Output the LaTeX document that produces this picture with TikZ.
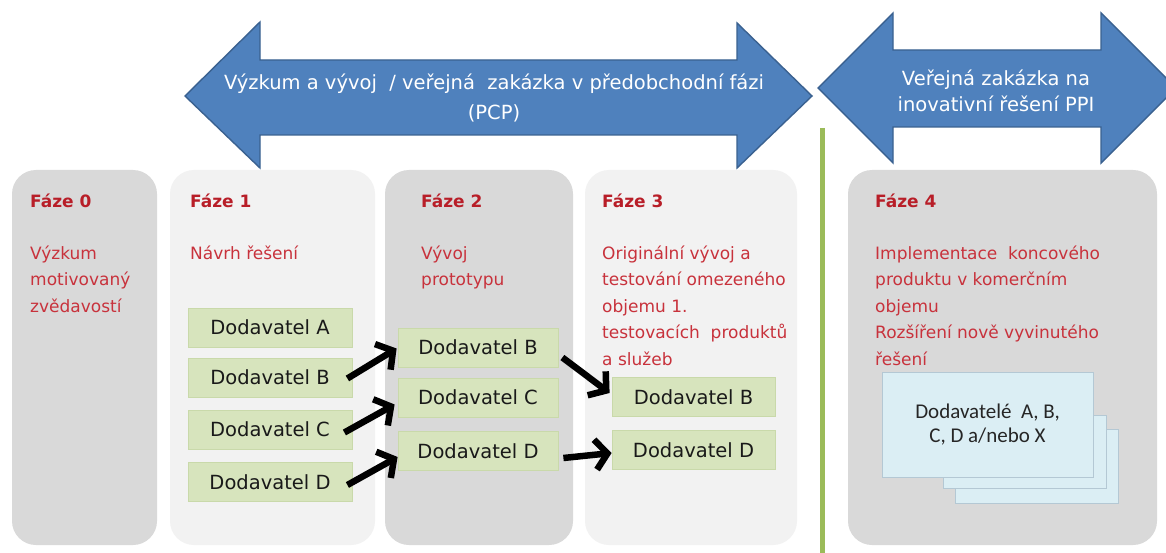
\documentclass[tikz,border=0pt]{standalone}
\usepackage{fontspec}
\setmainfont{DejaVu Sans}
\newfontfamily\calfont{Carlito}
\usetikzlibrary{arrows.meta}

\definecolor{phdark}{HTML}{D9D9D9}
\definecolor{phlight}{HTML}{F2F2F2}
\definecolor{arrowblue}{HTML}{4F81BD}
\definecolor{arrowedge}{HTML}{3A6190}
\definecolor{labelred}{HTML}{B81E28}
\definecolor{textred}{HTML}{C8323C}
\definecolor{supfill}{HTML}{D7E4BD}
\definecolor{supedge}{HTML}{C9D9AA}
\definecolor{stackfill}{HTML}{DBEEF4}
\definecolor{stackedge}{HTML}{B4C8D4}
\definecolor{divider}{HTML}{9BBB59}

\begin{document}
\begin{tikzpicture}[x=1pt,y=-1pt,
  phase/.style={rectangle, rounded corners=24pt, draw=none, minimum height=375pt, inner sep=0pt},
  phaselabel/.style={anchor=base west, inner sep=0pt, text=labelred, font=\fontsize{17}{26.5}\selectfont\bfseries},
  phasetext/.style={anchor=north west, inner sep=0pt, align=left, text=textred, font=\fontsize{17}{26.5}\selectfont},
  supplier/.style={rectangle, fill=supfill, draw=supedge, line width=0.8pt, minimum height=39pt, inner sep=0pt, text=black!90, font=\fontsize{19.5}{22}\selectfont},
  stackcard/.style={rectangle, fill=stackfill, draw=stackedge, line width=0.8pt, inner sep=0pt},
  bigarrow/.style={fill=arrowblue, draw=arrowedge, line width=1.4pt, line join=miter},
  arrowtext/.style={align=center, inner sep=0pt, text=white},
  flow/.style={line width=6.5pt, -{Straight Barb[length=12pt,width=30pt]}, black}
]
\useasboundingbox (0,0) rectangle (1166,553);
\fill[white] (0,0) rectangle (1166,553);

\begin{scope}
\clip (0,0) rectangle (1166,553);

% top arrows
\draw[bigarrow] (185,96) -- (260,22) -- (260,60) -- (737,60) -- (737,23) -- (812,96)
  -- (737,168) -- (737,135) -- (260,135) -- (260,168) -- cycle;
\node[arrowtext, font=\fontsize{19.5}{30}\selectfont] (pcp) at (494,98)
  {Výzkum a vývoj\ \ / veřejná\ \ zakázka v předobchodní fázi\\(PCP)};

\draw[bigarrow] (818,88) -- (893,13) -- (893,50) -- (1101,50) -- (1101,13) -- (1176,88)
  -- (1101,163) -- (1101,127) -- (893,127) -- (893,163) -- cycle;
\node[arrowtext, font=\fontsize{19.5}{26}\selectfont] (ppi) at (996,91)
  {Veřejná zakázka na\\inovativní řešení PPI};

% divider between PCP and PPI
\draw[divider, line width=5pt] (822,128) -- (822,553);
\end{scope}

% phase columns
\node[phase, fill=phdark,  minimum width=145pt] (ph0) at (84.5,357.5) {};
\node[phase, fill=phlight, minimum width=205pt] (ph1) at (272.5,357.5) {};
\node[phase, fill=phdark,  minimum width=188pt] (ph2) at (479,357.5) {};
\node[phase, fill=phlight, minimum width=212pt] (ph3) at (691,357.5) {};
\node[phase, fill=phdark,  minimum width=309pt] (ph4) at (1002.5,357.5) {};

% phase headings and descriptions
\node[phaselabel] (l0) at (30,208) {Fáze 0};
\node[phaselabel] (l1) at (190,208) {Fáze 1};
\node[phaselabel] (l2) at (421,208) {Fáze 2};
\node[phaselabel] (l3) at (602,208) {Fáze 3};
\node[phaselabel] (l4) at (875,208) {Fáze 4};

\node[phasetext] (d0) at (30,240.5) {\strut Výzkum\\motivovaný\\zvědavostí};
\node[phasetext] (d1) at (190,240.5) {\strut Návrh řešení};
\node[phasetext] (d2) at (421,240.5) {\strut Vývoj\\prototypu};
\node[phasetext] (d3) at (602,240.5) {\strut Originální vývoj a\\testování omezeného\\objemu 1.\\testovacích\ \ produktů\\a služeb};
\node[phasetext] (d4) at (875,240.5) {\strut Implementace\ \ koncového\\produktu v komerčním\\objemu\\Rozšíření nově vyvinutého\\řešení};

% suppliers, phase 1
\node[supplier, minimum width=164pt] (p1a) at (270,327.5) {Dodavatel A};
\node[supplier, minimum width=164pt] (p1b) at (270,377.5) {Dodavatel B};
\node[supplier, minimum width=164pt] (p1c) at (270,429.5) {Dodavatel C};
\node[supplier, minimum width=164pt] (p1d) at (270,482) {Dodavatel D};

% suppliers, phase 2
\node[supplier, minimum width=160pt] (p2b) at (478,347.5) {Dodavatel B};
\node[supplier, minimum width=160pt] (p2c) at (478,397.5) {Dodavatel C};
\node[supplier, minimum width=160pt] (p2d) at (478,451) {Dodavatel D};

% suppliers, phase 3
\node[supplier, minimum width=163pt] (p3b) at (693.5,397) {Dodavatel B};
\node[supplier, minimum width=163pt] (p3d) at (693.5,450) {Dodavatel D};

% supplier flow between phases
\draw[flow] ([xshift=-5pt,yshift=-1pt]p1b.east) -- ([xshift=-1pt,yshift=-1pt]p2b.west);
\draw[flow] ([xshift=-8pt,yshift=-3pt]p1c.east) -- ([xshift=-3pt,yshift=-7pt]p2c.west);
\draw[flow] ([xshift=-5pt,yshift=-3pt]p1d.east) -- ([yshift=-6pt]p2d.west);
\draw[flow] ([xshift=4pt,yshift=-10pt]p2b.east) -- ([xshift=-2pt,yshift=4pt]p3b.west);
\draw[flow] ([xshift=5pt,yshift=-7pt]p2d.east) -- ([yshift=-3pt]p3d.west);

% stacked cards, phase 4
\node[stackcard, minimum width=163pt, minimum height=74pt] (s3) at (1036.5,466) {};
\node[stackcard, minimum width=163pt, minimum height=73pt] (s2) at (1024.5,451.5) {};
\node[stackcard, minimum width=211pt, minimum height=105pt, align=center,
      text=black!85, font=\calfont\fontsize{21}{23.5}\selectfont] (s1) at (987.5,424.5)
  {Dodavatelé\ \ A, B,\\C, D a/nebo X};

\end{tikzpicture}
\end{document}
